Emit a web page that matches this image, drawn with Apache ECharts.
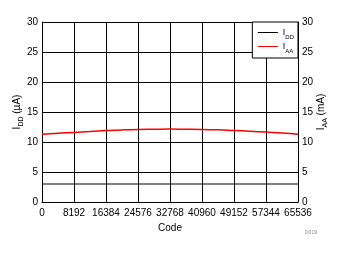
<!DOCTYPE html>
<html>
<head>
<meta charset="utf-8">
<script src="https://cdn.jsdelivr.net/npm/echarts@6/dist/echarts.min.js"></script>
<style>html,body{margin:0;padding:0;background:#fff;}#c{width:340px;height:254px;}</style>
</head>
<body>
<div id="c"></div>
<script>
var codes = [0, 4096, 8192, 12288, 16384, 20480, 24576, 28672, 32768, 36864, 40960, 45056, 49152, 53248, 57344, 61440, 65536];
var iAA = [11.3, 11.45, 11.6, 11.75, 11.9, 12.02, 12.1, 12.13, 12.15, 12.13, 12.1, 12.03, 11.92, 11.8, 11.65, 11.5, 11.3];
var iDD = [3.0, 3.0, 3.0, 3.0, 3.0, 3.0, 3.0, 3.0, 3.0, 3.0, 3.0, 3.0, 3.0, 3.0, 3.0, 3.0, 3.0];
var xTicks = [0, 8192, 16384, 24576, 32768, 40960, 49152, 57344, 65536];
var yTicks = [0, 5, 10, 15, 20, 25, 30];

var font = 'Liberation Sans, Arial, sans-serif';
var chart = echarts.init(document.getElementById('c'), null, {renderer: 'canvas'});
function pairs(xs, ys){ return xs.map(function(x,i){ return [x, ys[i]]; }); }
var nameRich = {
  m: {fontFamily: font, fontSize: 10, color: '#000'},
  s: {fontFamily: font, fontSize: 7, color: '#000', verticalAlign: 'bottom', padding: [0,0,-3,0]}
};
chart.setOption({
  animation: false,
  textStyle: {fontFamily: font},
  grid: {left: 42, right: 42, top: 22, bottom: 52, containLabel: false, outerBoundsMode: 'none'},
  legend: {
    orient: 'vertical', right: 42, top: 22,
    backgroundColor: '#fff', borderColor: '#000', borderWidth: 1, borderRadius: 0,
    padding: [6, 4, 4, 5], itemGap: 2,
    itemWidth: 20, itemHeight: 10,
    itemStyle: {opacity: 0},
    lineStyle: {width: 1},
    textStyle: {fontFamily: font, fontSize: 9, color: '#000', rich: {
      m: {fontFamily: font, fontSize: 9, color: '#000'},
      s: {fontFamily: font, fontSize: 6, color: '#000', verticalAlign: 'bottom', padding: [0,0,-3,0]}
    }},
    formatter: function(n){ return '{m|I}{s|' + n.slice(1) + '}'; },
    data: ['IDD', 'IAA']
  },
  xAxis: {
    type: 'value', min: 0, max: 65536, interval: 8192,
    name: 'Code', nameLocation: 'middle', nameGap: 20,
    nameTextStyle: {fontFamily: font, fontSize: 10, color: '#000'},
    axisLine: {show: true, lineStyle: {color: '#000', width: 1}},
    axisTick: {show: false},
    axisLabel: {fontFamily: font, fontSize: 10, color: '#000', margin: 6,
      formatter: function(v){ return String(v); }},
    splitLine: {show: true, lineStyle: {color: '#000', width: 1}}
  },
  yAxis: [{
    type: 'value', min: 0, max: 30, interval: 5, position: 'left',
    name: '{m|I}{s|DD}{m| (µA)}', nameLocation: 'middle', nameGap: 20, nameRotate: 90,
    nameMoveOverlap: false,
    nameTextStyle: {rich: nameRich},
    axisLine: {show: true, lineStyle: {color: '#000', width: 1}},
    axisTick: {show: false},
    axisLabel: {fontFamily: font, fontSize: 10, color: '#000', margin: 4},
    splitLine: {show: true, lineStyle: {color: '#000', width: 1}}
  }, {
    type: 'value', min: 0, max: 30, interval: 5, position: 'right',
    name: '{m|I}{s|AA}{m| (mA)}', nameLocation: 'middle', nameGap: 18, nameRotate: 90,
    nameMoveOverlap: false,
    nameTextStyle: {rich: nameRich},
    axisLine: {show: true, lineStyle: {color: '#000', width: 1}},
    axisTick: {show: false},
    axisLabel: {fontFamily: font, fontSize: 10, color: '#000', margin: 4},
    splitLine: {show: false}
  }],
  graphic: [{
    type: 'text', left: 305, top: 230,
    style: {text: 'D019', fontFamily: font, fontSize: 5, fill: '#888'}
  }],
  series: [{
    name: 'IDD', type: 'line', yAxisIndex: 0, data: pairs(codes, iDD),
    symbol: 'none', showSymbol: false, color: '#000', lineStyle: {color: '#000', width: 1.2}
  }, {
    name: 'IAA', type: 'line', yAxisIndex: 0, data: pairs(codes, iAA), smooth: true,
    symbol: 'none', showSymbol: false, color: '#ff0000', lineStyle: {color: '#ff0000', width: 1.5}
  }]
});
</script>
</body>
</html>
